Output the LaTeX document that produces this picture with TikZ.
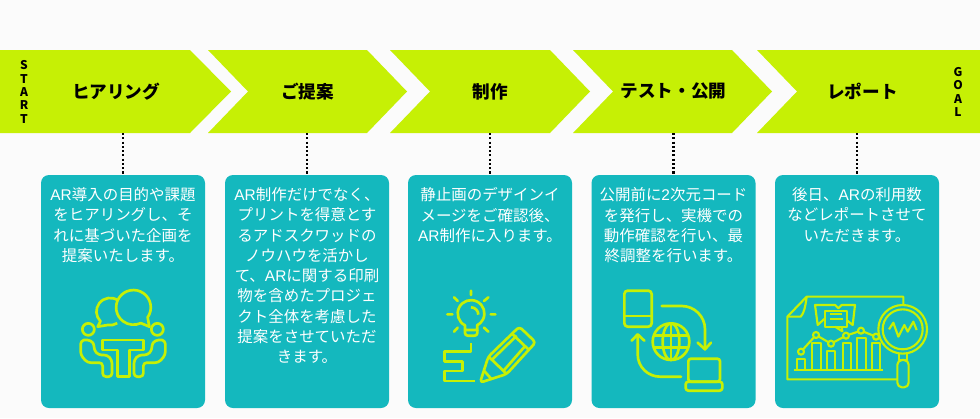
\documentclass[tikz,border=0pt]{standalone}
\usepackage{fontspec}
\setmainfont{Noto Sans CJK JP}
\newfontfamily\latfont{Liberation Sans}
\usetikzlibrary{positioning}
\definecolor{limeBar}{RGB}{198,240,5}
\definecolor{tealCard}{RGB}{20,184,190}
\definecolor{paperBg}{RGB}{251,251,251}
\newcommand{\AR}{{\latfont AR}}
\tikzset{
    bar/.style={fill=limeBar},
    title/.style={font=\bfseries\fontsize{13.2}{15}\selectfont, inner sep=0pt},
    tag/.style={font=\bfseries\fontsize{9}{10}\selectfont, align=center, inner sep=0pt},
    card/.style={fill=tealCard, rounded corners=6pt, minimum width=123pt, minimum height=174.75pt, inner sep=0pt},
    cardtext/.style={text=white, align=center, inner sep=0pt, font=\fontsize{11.6}{15.2}\selectfont},
    leader/.style={line width=1.6pt, dash pattern=on 1.6pt off 1.6pt},
    icon/.style={draw=limeBar, line width=2pt, line join=round},
    thin icon/.style={draw=limeBar, line width=1.6pt, line join=round}
}
\begin{document}
\begin{tikzpicture}[x=0.75pt,y=-0.75pt]
    \useasboundingbox[fill=paperBg] (0,0) rectangle (980,418);

    % chevrons
    \fill[bar] (0,50) -- (190,50) -- (231,91.5) -- (190,133) -- (0,133) -- cycle;
    \fill[bar] (208,50) -- (367,50) -- (407,91.5) -- (367,133) -- (208,133) -- (248,91.5) -- cycle;
    \fill[bar] (390,50) -- (550,50) -- (590,91.5) -- (550,133) -- (390,133) -- (430,91.5) -- cycle;
    \fill[bar] (573,50) -- (732,50) -- (772,91.5) -- (732,133) -- (573,133) -- (613,91.5) -- cycle;
    \fill[bar] (757,50) -- (980,50) -- (980,133) -- (757,133) -- (797,91.5) -- cycle;

    \node[title] (hearing) at (116,91.5) {ヒアリング};
    \node[title] (proposal) at (307.5,91.5) {ご提案};
    \node[title] (making) at (490,91.5) {制作};
    \node[title] (testing) at (673.5,91.5) {テスト・公開};
    \node[title] (report) at (862.5,91.5) {レポート};
    \node[tag] (startTag) at (24,92) {S\\T\\A\\R\\T};
    \node[tag] (goalTag) at (958,92) {G\\O\\A\\L};

    % cards
    \node[card] (cardA) at (123,291.5) {};
    \node[card] (cardB) at (307,291.5) {};
    \node[card] (cardC) at (490,291.5) {};
    \node[card] (cardD) at (673.5,291.5) {};
    \node[card] (cardE) at (857,291.5) {};

    \coordinate (footA) at (123,133);
    \coordinate (footB) at (307,133);
    \coordinate (footC) at (490,133);
    \coordinate (footD) at (673.5,133);
    \coordinate (footE) at (857,133);
    \draw[leader] (footA) -- (cardA.north);
    \draw[leader] (footB) -- (cardB.north);
    \draw[leader] (footC) -- (cardC.north);
    \draw[leader] (footD) -- (cardD.north);
    \draw[leader] (footE) -- (cardE.north);

    \node[cardtext, below=9.5pt of cardA.north] (textA) {\AR{}導入の目的や課題\\をヒアリングし、そ\\れに基づいた企画を\\提案いたします。};
    \node[cardtext, below=9.5pt of cardB.north] (textB) {\AR{}制作だけでなく、\\プリントを得意とす\\るアドスクワッドの\\ノウハウを活かし\\て、\AR{}に関する印刷\\物を含めたプロジェ\\クト全体を考慮した\\提案をさせていただ\\きます。};
    \node[cardtext, below=9.5pt of cardC.north] (textC) {静止画のデザインイ\\メージをご確認後、\\\AR{}制作に入ります。};
    \node[cardtext, below=9.5pt of cardD.north] (textD) {公開前に{\latfont 2}次元コード\\を発行し、実機での\\動作確認を行い、最\\終調整を行います。};
    \node[cardtext, below=9.5pt of cardE.north] (textE) {後日、\AR{}の利用数\\などレポートさせて\\いただきます。};

    % meeting icon
    \begin{scope}[shift={(30,170)},scale=1/3]
        \draw[icon] (353,442) arc[start angle=35,end angle=-295,radius=52] -- (358,470) -- cycle;
        \draw[icon] (265,392) arc[start angle=-53,end angle=-225,radius=41] -- (203,470) -- (233,465) arc[start angle=100,end angle=58,radius=41];
        \draw[icon] (175,478) circle (18);
        \draw[icon] (382,478) circle (18);
        \draw[icon] (218,510) -- (340,510) -- (340,540) -- (298,540) -- (298,620) -- (262,620) -- (262,540) -- (218,540) -- cycle;
        \draw[icon,rounded corners=2.5pt] (172,508) -- (152,512) -- (152,555) -- (172,578) -- (218,578) -- (218,620) -- (246,620) -- (246,570) -- (232,555) -- (205,555) -- (192,540) -- (192,518) -- cycle;
        \draw[icon,rounded corners=2.5pt] (386,508) -- (406,512) -- (406,555) -- (386,578) -- (340,578) -- (340,620) -- (312,620) -- (312,570) -- (326,555) -- (353,555) -- (366,540) -- (366,518) -- cycle;
    \end{scope}

    % idea icon
    \begin{scope}[shift={(400,170)},scale=1/3]
        \draw[icon] (195,480) -- (195,466) arc[start angle=117,end angle=423,radius=40] -- (232,480) -- cycle;
        \draw[icon,rounded corners=2pt] (195,480) -- (195,497) -- (232,497) -- (232,480);
        \draw[icon] (213,412) arc[start angle=-90,end angle=0,radius=22];
        \draw[icon,line cap=round] (213,362) -- (213,375) (162,382) -- (173,393) (265,382) -- (252,393) (142,433) -- (157,433) (272,433) -- (286,433) (162,485) -- (173,473) (265,485) -- (252,473);
        \draw[icon] (213,520) -- (213,545) -- (133,545) -- (133,575) -- (187,575) -- (187,603) -- (133,603) -- (133,633) -- (225,633);
        \draw[icon,rounded corners=2.5pt] (240,638) -- (265,560) -- (358,470) -- (407,517) -- (320,612) -- cycle;
        \draw[icon] (335,490) -- (385,538) (275,570) -- (350,497) (310,603) -- (372,532) (266,560) -- (320,612) (252,602) -- (275,628);
    \end{scope}

    % exchange icon
    \begin{scope}[shift={(585,170)},scale=1/3]
        \draw[icon,rounded corners=2.5pt] (118,362) rectangle (200,470);
        \draw[icon] (118,438) -- (200,438);
        \draw[icon] (258,515) circle (55);
        \draw[icon] (258,515) ellipse (25 and 55);
        \draw[icon] (258,460) -- (258,570) (208,497) -- (308,497) (208,533) -- (308,533);
        \draw[icon,line cap=round] (230,408) -- (290,408) arc[start angle=-90,end angle=0,radius=70] -- (360,538);
        \draw[icon,line cap=round] (338,518) -- (360,538) -- (378,518);
        \draw[icon,line cap=round] (288,620) -- (225,620) arc[start angle=90,end angle=180,radius=67] -- (158,495);
        \draw[icon,line cap=round] (140,512) -- (158,493) -- (178,512);
        \draw[icon,rounded corners=2pt] (310,566) rectangle (405,635);
        \draw[icon,rounded corners=2pt] (302,635) rectangle (412,662);
    \end{scope}

    % report icon
    \begin{scope}[shift={(770,170)},scale=1/3]
        \draw[thin icon] (400,405) -- (400,380) -- (110,380) -- (52,440) -- (52,628) -- (382,628);
        \draw[thin icon] (52,440) -- (92,440) .. controls (102,430) and (106,410) .. (110,380);
        \draw[thin icon] (165,445) -- (143,465) -- (135,405) -- (195,405) -- (205,415) -- (215,405) -- (255,405) -- (248,465) -- (232,452);
        \draw[thin icon] (165,422) rectangle (232,470);
        \draw[thin icon] (195,470) -- (217,484) -- (215,470);
        \draw[thin icon] (180,433) -- (215,433) (180,447) -- (220,447);
        \draw[thin icon] (72,600) -- (338,600);
        \draw[thin icon] (82,600) -- (82,567) -- (106,567) -- (106,600);
        \draw[thin icon] (127,600) -- (127,520) -- (152,520) -- (152,600);
        \draw[thin icon] (172,600) -- (172,543) -- (195,543) -- (195,600);
        \draw[thin icon] (218,600) -- (218,520) -- (242,520) -- (242,600);
        \draw[thin icon] (262,600) -- (262,503) -- (287,503) -- (287,600);
        \draw[thin icon] (305,600) -- (305,520) -- (331,520) -- (331,600);
        \draw[thin icon] (93,545) -- (138,495) -- (183,521) -- (228,497) -- (273,482) -- (318,500);
        \foreach \px/\py in {93/545,138/495,183/521,228/497,273/482,318/500}
            \draw[thin icon,fill=tealCard] (\px,\py) circle (9);
        \draw[thin icon,fill=tealCard] (398,478) circle (73);
        \draw[thin icon] (398,478) circle (60);
        \draw[thin icon] (357,478) -- (370,458) -- (385,500) -- (403,465) -- (413,485) -- (430,455) -- (440,480);
        \draw[thin icon] (388,551) -- (388,570) -- (410,570) -- (410,551);
        \draw[thin icon,rounded corners=3.5pt] (382,570) -- (382,652) -- (416,652) -- (416,570) -- cycle;
    \end{scope}
\end{tikzpicture}
\end{document}
